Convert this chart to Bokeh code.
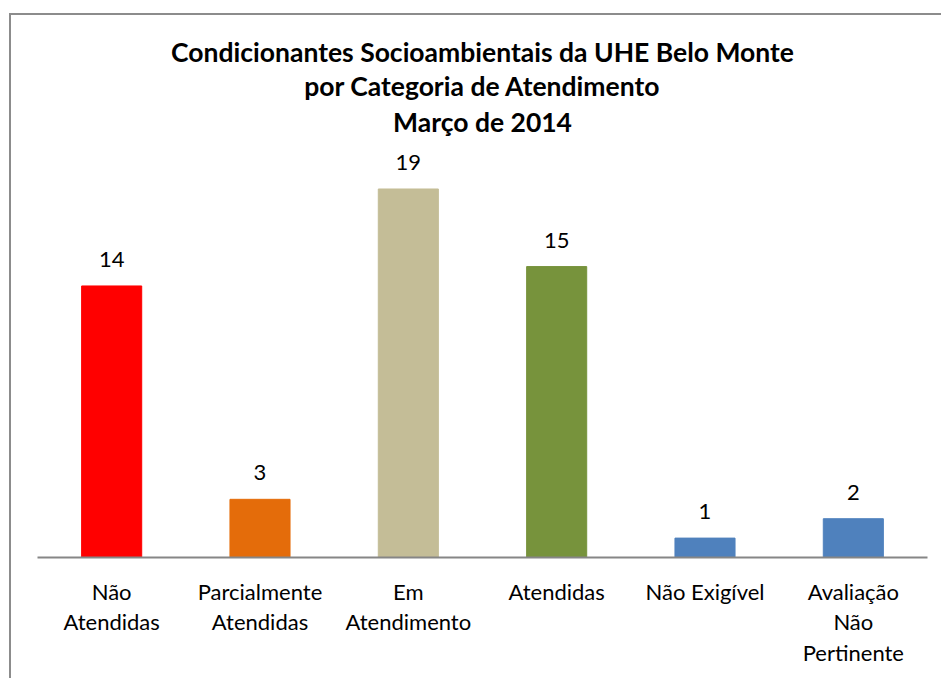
from bokeh.plotting import figure
from bokeh.models import ColumnDataSource, LabelSet, Title, Range1d, FactorRange
from bokeh.core.properties import value
from bokeh.embed import file_html
from bokeh.resources import INLINE

categories = ["Não\nAtendidas", "Parcialmente\nAtendidas", "Em\nAtendimento",
              "Atendidas", "Não Exigível", "Avaliação\nNão\nPertinente"]
values = [14, 3, 19, 15, 1, 2]
colors = ["#FF0000", "#E46C0A", "#C4BD97", "#77933C", "#4F81BD", "#4F81BD"]
title_lines = ["Condicionantes Socioambientais da UHE Belo Monte",
               "por Categoria de Atendimento",
               "Março de 2014"]

FONT = "Lato"

src = ColumnDataSource(dict(cat=categories, val=values, col=colors,
                            txt=[str(v) for v in values]))

p = figure(width=932, height=665, output_backend="svg", toolbar_location=None,
           x_range=FactorRange(*categories, range_padding=0),
           y_range=Range1d(0, 21.5),
           min_border_left=26, min_border_right=16, min_border_bottom=123,
           min_border_top=125)
p.styles = {"margin-left": "9px", "margin-top": "13px",
            "border-left": "2px solid #8C8C8C", "border-top": "2px solid #8C8C8C"}
p.title = None
for i, line in enumerate(reversed(title_lines)):
    p.add_layout(Title(text=line, align="center", text_font=FONT, text_font_size="26.5px",
                       text_font_style="bold", text_color="#000000",
                       standoff=5 if i == 0 else 0), "above")

p.vbar(x="cat", top="val", width=0.405, color="col", source=src)

p.add_layout(LabelSet(x="cat", y="val", text="txt", source=src, y_offset=19,
                      text_align="center", text_baseline="alphabetic",
                      text_font=value(FONT), text_font_size=value("22px"),
                      text_color="#000000"))

p.yaxis.visible = False
p.xgrid.visible = False
p.ygrid.visible = False
p.outline_line_color = None
xa = p.xaxis[0]
xa.axis_line_color = "#868686"
xa.axis_line_width = 2
xa.major_tick_line_color = None
xa.minor_tick_line_color = None
xa.major_label_standoff = 14
xa.major_label_text_font = FONT
xa.major_label_text_font_size = "22px"
xa.major_label_text_color = "#000000"
xa.major_label_text_line_height = 1.136

open("out.html", "w").write(file_html(p, INLINE))
